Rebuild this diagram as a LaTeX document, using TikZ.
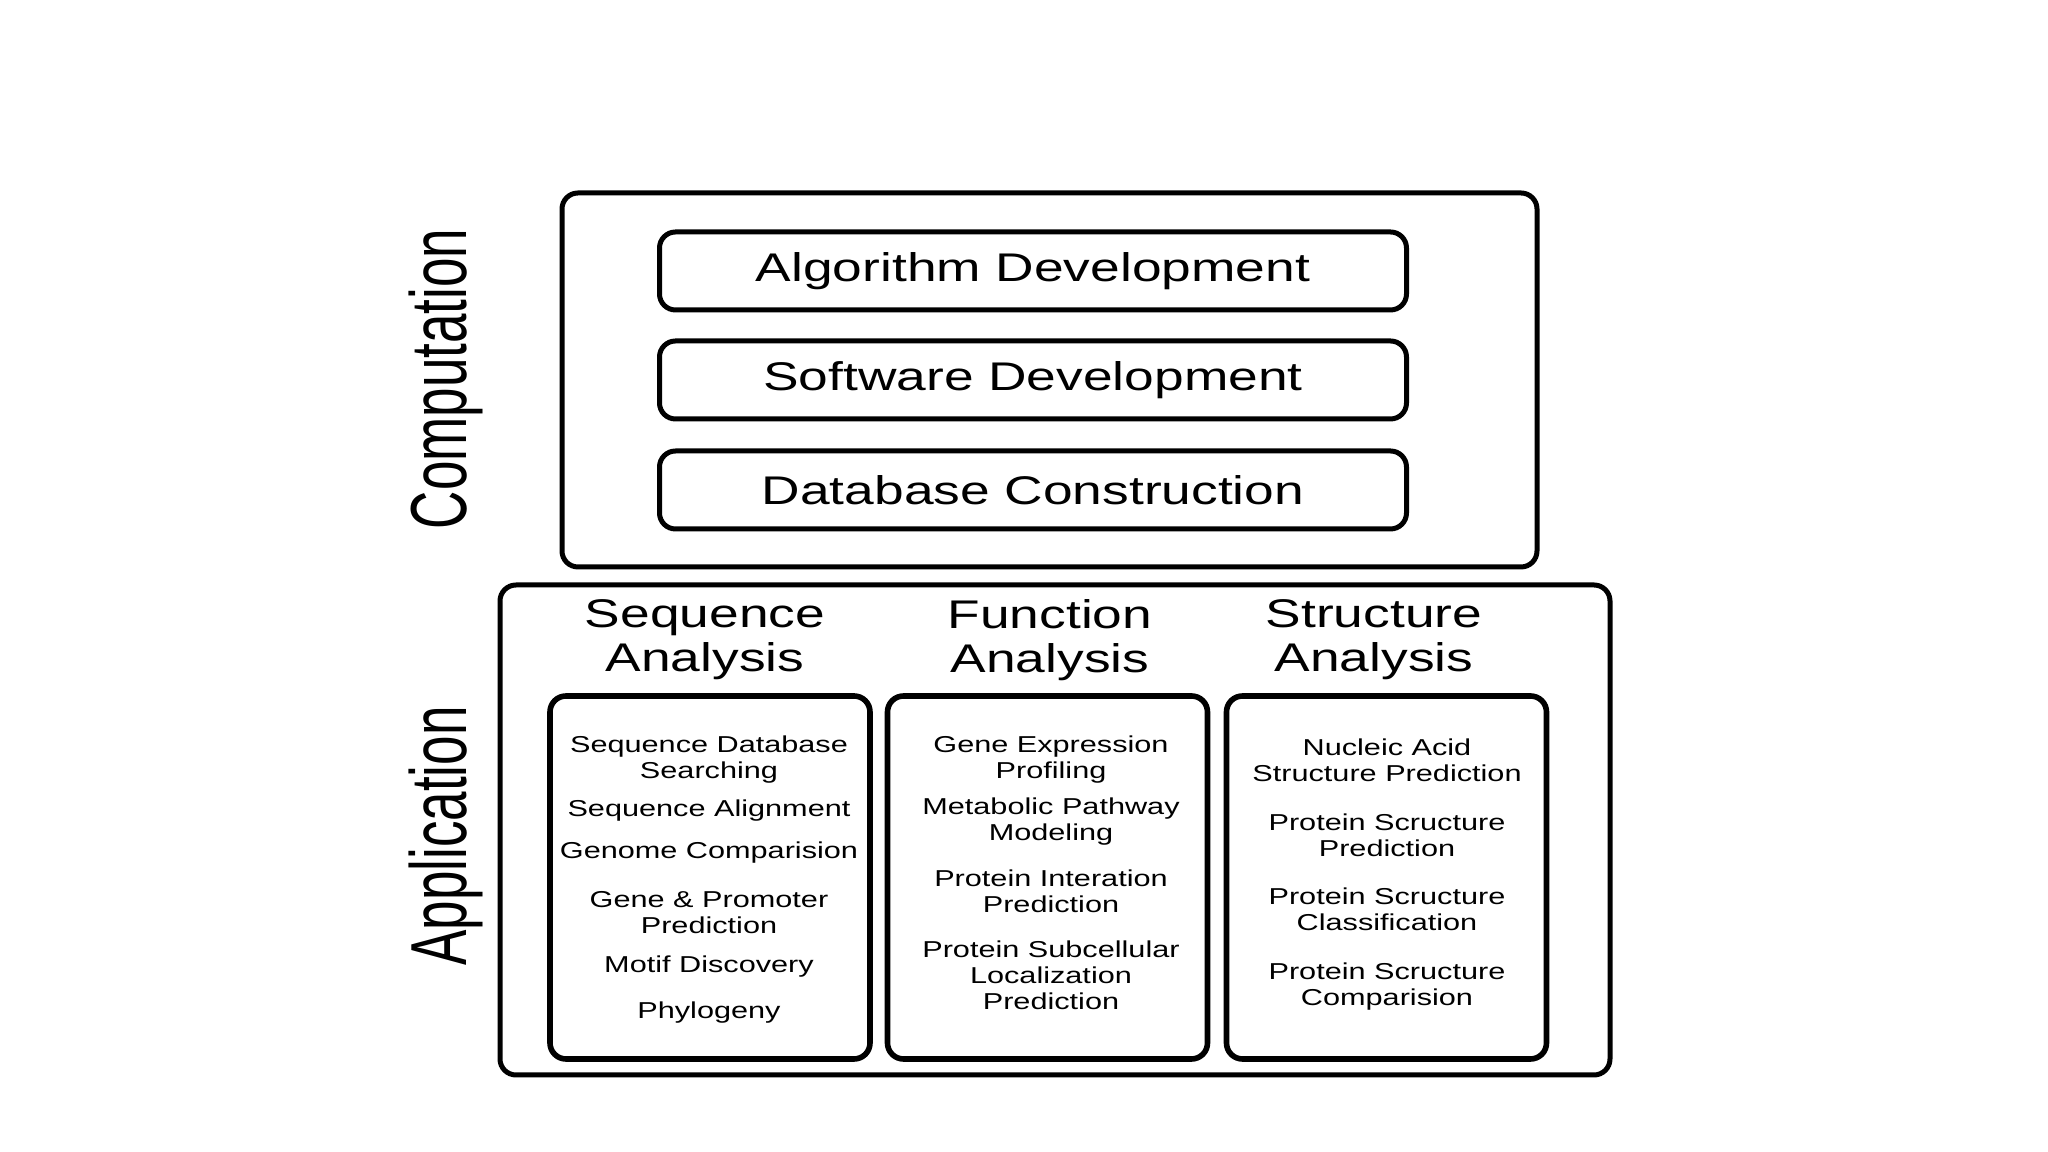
\documentclass[tikz,border=0pt]{standalone}
\usepackage{fontspec}
\setmainfont[FakeStretch=1.333]{Liberation Sans}
\newfontfamily\sidefont{Liberation Sans}

\tikzset{
    frame/.style={draw, line width=1.25pt, rounded corners=4pt},
    task/.style={draw, line width=1.25pt, rounded corners=4pt,
        minimum width=186.75pt, minimum height=19.5pt,
        font=\fontsize{10}{11}\selectfont},
    column/.style={draw, line width=1.4pt, rounded corners=4pt,
        minimum width=80pt, minimum height=90.75pt},
    head/.style={align=center, font=\fontsize{10}{11}\selectfont},
    item/.style={align=center, inner sep=0pt, font=\fontsize{5.75}{6.5}\selectfont},
    side/.style={inner sep=0pt, font=\sidefont\fontsize{13.25}{14}\selectfont}
}

\begin{document}
\begin{tikzpicture}[x=0.25pt, y=-0.25pt]

\fill[white] (0,0) rectangle (2048,1152);
\useasboundingbox (0,0) rectangle (2048,1152);

% computation
\draw[frame] (562,193) rectangle (1537,567);
\node[task] (alg) at (1033,271) {Algorithm Development};
\node[task] (soft) at (1033,380) {Software Development};
\node[task] (db) at (1033,490) {Database Construction};

\node[side] (comp) at (446,379) {\scalebox{1.5}[1]{\rotatebox{90}{Computation}}};

% application
\draw[frame] (500,585) rectangle (1610,1075);
\node[side] (app) at (446,836) {\scalebox{1.5}[1]{\rotatebox{90}{Application}}};

\node[head] (seq) at (705,640) {Sequence\\Analysis};
\node[head] (fun) at (1050,640) {Function\\Analysis};
\node[head] (str) at (1374,640) {Structure\\Analysis};

\node[column] (seqbox) at (710,877.5) {};
\node[column] (funbox) at (1047.5,877.5) {};
\node[column] (strbox) at (1386.5,877.5) {};

% sequence items
\node[item] (s1) at (709,760) {Sequence Database\\Searching};
\node[item] (s2) at (709,811) {Sequence Alignment};
\node[item] (s3) at (709,853) {Genome Comparision};
\node[item] (s4) at (709,913) {Gene \& Promoter\\Prediction};
\node[item] (s5) at (709,967) {Motif Discovery};
\node[item] (s6) at (709,1013) {Phylogeny};

% function items
\node[item] (f1) at (1051,760) {Gene Expression\\Profiling};
\node[item] (f2) at (1051,822) {Metabolic Pathway\\Modeling};
\node[item] (f3) at (1051,891) {Protein Interation\\Prediction};
\node[item] (f4) at (1051,975) {Protein Subcellular\\Localization\\Prediction};

% structure items
\node[item] (t1) at (1387,760) {Nucleic Acid\\Structure Prediction};
\node[item] (t2) at (1387,835) {Protein Scructure\\Prediction};
\node[item] (t3) at (1387,909) {Protein Scructure\\Classification};
\node[item] (t4) at (1387,987) {Protein Scructure\\Comparision};

\end{tikzpicture}
\end{document}
